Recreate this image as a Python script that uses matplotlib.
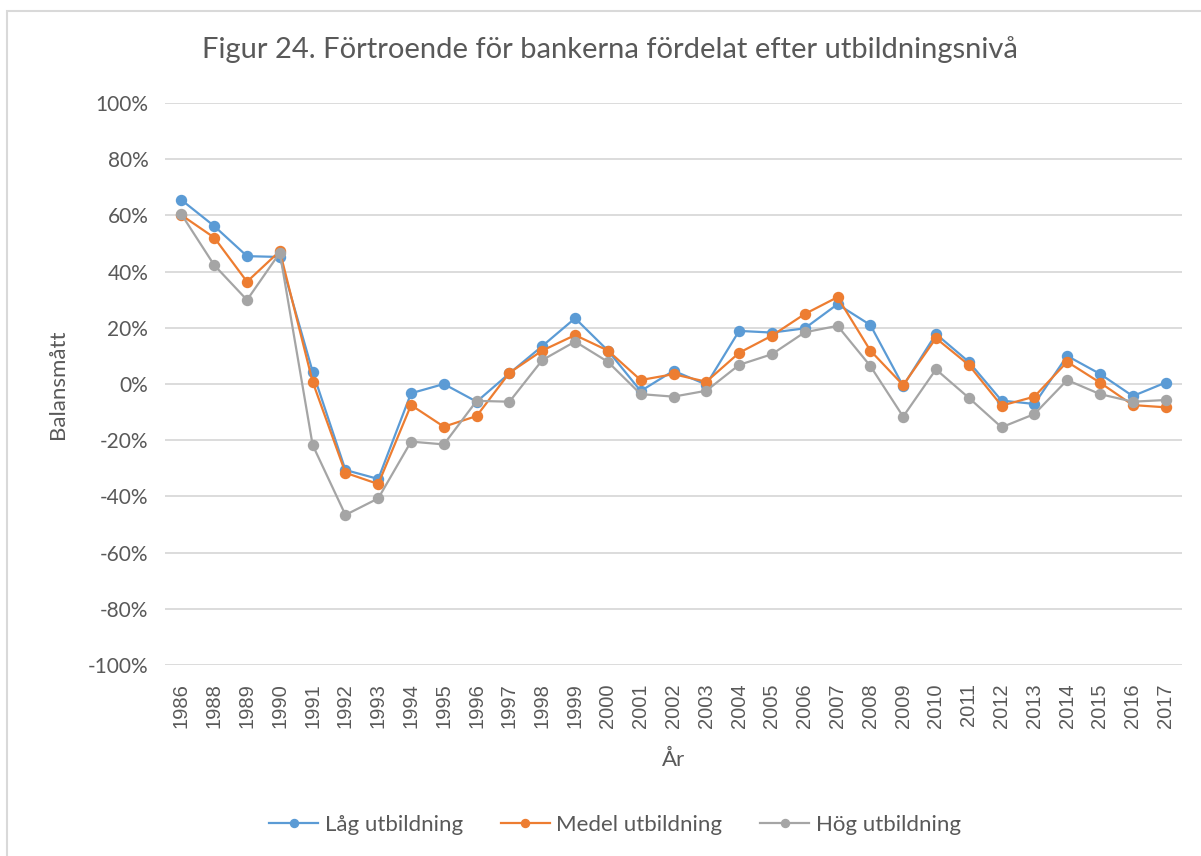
import matplotlib
matplotlib.use("Agg")
import matplotlib.pyplot as plt
from matplotlib.patches import Rectangle
from matplotlib.ticker import FixedLocator

years = ["1986", "1988", "1989", "1990", "1991", "1992", "1993", "1994", "1995", "1996",
         "1997", "1998", "1999", "2000", "2001", "2002", "2003", "2004", "2005", "2006",
         "2007", "2008", "2009", "2010", "2011", "2012", "2013", "2014", "2015", "2016", "2017"]

lag = [65.5, 56.2, 45.5, 45.2, 4.4, -30.6, -33.8, -3.3, 0.0, -6.3,
       3.8, 13.5, 23.4, 11.9, -2.5, 4.7, -0.2, 18.9, 18.3, 19.8,
       28.4, 21.0, -0.7, 17.8, 7.9, -5.9, -7.1, 10.0, 3.6, -4.3, 0.5]
medel = [60.1, 52.1, 36.4, 47.3, 0.8, -31.6, -35.6, -7.5, -15.2, -11.4,
         4.0, 11.9, 17.4, 11.9, 1.4, 3.5, 0.8, 11.1, 17.2, 24.9,
         30.9, 11.9, -0.4, 16.3, 6.8, -7.7, -4.5, 7.9, 0.5, -7.5, -8.3]
hog = [60.4, 42.3, 29.9, 46.7, -21.7, -46.6, -40.7, -20.5, -21.5, -6.0,
       -6.3, 8.5, 15.1, 7.9, -3.6, -4.5, -2.4, 6.8, 10.6, 18.4,
       20.7, 6.4, -11.6, 5.2, -4.9, -15.4, -10.7, 1.4, -3.6, -6.3, -5.7]

series = [("Låg utbildning", lag, "#5B9BD5"),
          ("Medel utbildning", medel, "#ED7D31"),
          ("Hög utbildning", hog, "#A5A5A5")]

yticks = list(range(-100, 101, 20))

W, H = 1201, 856
fig = plt.figure(figsize=(W / 100, H / 100), dpi=100)
fig.patch.set_facecolor("white")

# outer chart frame
fig.patches.append(Rectangle((7 / W, -0.05), 1.2, (H - 11) / H + 0.05, transform=fig.transFigure,
                             fill=False, edgecolor="#D9D9D9", linewidth=1.5, zorder=0))

left, right, top, bottom = 165, 1182, 103, 665
ax = fig.add_axes([left / W, 1 - bottom / H, (right - left) / W, (bottom - top) / H])

x = list(range(len(years)))
for name, vals, col in series:
    ax.plot(x, vals, color=col, linewidth=1.6, marker="o", markersize=7.2,
            markeredgecolor=col, markerfacecolor=col, label=name, zorder=3)

ax.set_xlim(-0.5, len(years) - 0.5)
ax.set_ylim(-100, 100)
ax.yaxis.set_major_locator(FixedLocator(yticks))
ax.set_yticklabels([f"{v}%" for v in yticks], fontfamily="Lato", fontsize=15, color="#595959")
ax.set_xticks(x)
ax.set_xticklabels(years, rotation=90, fontfamily="Liberation Sans", fontsize=14.5, color="#595959")
ax.tick_params(axis="y", length=0, pad=12)
ax.tick_params(axis="x", length=0, pad=13)
ax.grid(axis="y", color="#D9D9D9", linewidth=1.3)
ax.set_axisbelow(True)
for s in ax.spines.values():
    s.set_visible(False)

ax.set_ylabel("Balansmått", fontfamily="Lato", fontsize=16, color="#595959", labelpad=14)
ax.set_xlabel("År", fontfamily="Lato", fontsize=16, color="#595959", labelpad=16)

fig.text(610 / W, 1 - 50 / H, "Figur 24. Förtroende för bankerna fördelat efter utbildningsnivå",
         ha="center", va="center", fontfamily="Lato", fontsize=21, color="#595959")

leg = fig.legend(loc="center", bbox_to_anchor=(615 / W, 1 - 825 / H), ncol=3, frameon=False,
                 prop={"family": "Lato", "size": 16}, handlelength=2.2, columnspacing=1.7,
                 handletextpad=0.3, markerscale=0.8)
for t in leg.get_texts():
    t.set_color("#595959")

fig.savefig("out.png", dpi=100, facecolor="white")
